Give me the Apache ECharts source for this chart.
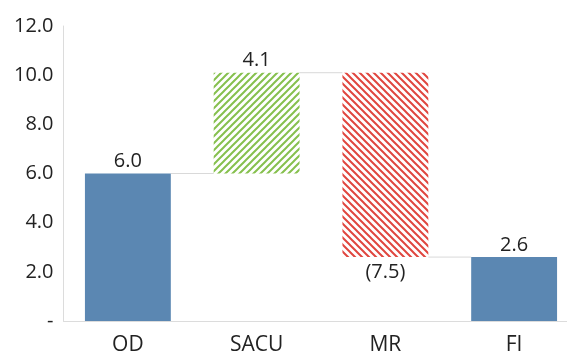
<!DOCTYPE html>
<html>
<head>
<meta charset="utf-8">
<script src="https://cdn.jsdelivr.net/npm/echarts@6/dist/echarts.min.js"></script>
<style>
html,body{margin:0;padding:0;background:#fff;}
#chart{width:567px;height:356px;}
</style>
</head>
<body>
<div id="chart"></div>
<script>
// Waterfall: opening value, changes, final value
const categories = ['OD', 'SACU', 'MR', 'FI'];
const changes = [6.0, 4.1, -7.5, 2.6];
const kinds = ['total', 'delta', 'delta', 'total'];
const yTicks = { min: 0, max: 12, interval: 2 };

function hatch(color, dir) {
  const s = 7;
  const c = document.createElement('canvas');
  c.width = s; c.height = s;
  const g = c.getContext('2d');
  g.strokeStyle = color;
  g.lineWidth = 2;
  g.beginPath();
  if (dir > 0) {
    g.moveTo(0, s); g.lineTo(s, 0);
    g.moveTo(-s, s); g.lineTo(s, -s);
    g.moveTo(0, 2 * s); g.lineTo(2 * s, 0);
  } else {
    g.moveTo(0, 0); g.lineTo(s, s);
    g.moveTo(-s, 0); g.lineTo(s, 2 * s);
    g.moveTo(0, -s); g.lineTo(2 * s, s);
  }
  g.stroke();
  return { image: c, repeat: 'repeat' };
}

const greenHatch = hatch('#86c04e', 1);
const redHatch = hatch('#e0463f', -1);
const blue = '#5b87b2';
const textFont = 'Open Sans';

// base (invisible) and visible parts of each bar
const base = [], visible = [], levels = [];
let running = 0;
changes.forEach((v, i) => {
  if (kinds[i] === 'total') {
    base.push(0);
    visible.push(v);
    running = v;
  } else {
    const start = running;
    const end = running + v;
    base.push(Math.min(start, end));
    visible.push(Math.abs(v));
    running = end;
  }
  levels.push(running);
});

const fmt = v => (v < 0 ? '(' + Math.abs(v).toFixed(1) + ')' : v.toFixed(1));

const visData = visible.map((v, i) => {
  let color = blue;
  if (kinds[i] === 'delta') color = changes[i] >= 0 ? greenHatch : redHatch;
  return {
    value: v,
    itemStyle: { color: color },
    label: {
      position: changes[i] < 0 ? 'bottom' : 'top',
      distance: changes[i] < 0 ? 5 : 2,
      formatter: fmt(changes[i])
    }
  };
});

const chart = echarts.init(document.getElementById('chart'), null, { renderer: 'canvas' });
const barRatio = 0.667;

chart.setOption({
  animation: false,
  grid: { left: 63.5, top: 26, bottom: 35, width: 515, outerBoundsMode: 'none', containLabel: false },
  xAxis: {
    type: 'category',
    data: categories,
    axisLine: { lineStyle: { color: '#dcdcdc', width: 1 } },
    axisTick: { show: false },
    axisLabel: { color: '#222', fontSize: 21, fontFamily: textFont, margin: 14 }
  },
  yAxis: {
    type: 'value',
    min: yTicks.min, max: yTicks.max, interval: yTicks.interval,
    axisLine: { show: true, lineStyle: { color: '#dcdcdc', width: 1 } },
    axisTick: { show: false },
    splitLine: { show: false },
    axisLabel: {
      color: '#222', fontSize: 20, fontFamily: textFont, margin: 10,
      formatter: v => (v === 0 ? '-' : v.toFixed(1))
    }
  },
  series: [
    {
      type: 'bar', stack: 'w', barWidth: (barRatio * 100) + '%',
      itemStyle: { color: 'transparent' },
      emphasis: { disabled: true },
      data: base
    },
    {
      type: 'bar', stack: 'w', barWidth: (barRatio * 100) + '%',
      label: { show: true, color: '#222', fontSize: 20, fontFamily: textFont },
      data: visData
    },
    {
      // connectors between consecutive bars
      type: 'custom',
      silent: true,
      z: 1,
      data: levels.slice(0, -1).map((lv, i) => [i, lv]),
      renderItem: function (params, api) {
        const i = api.value(0);
        const lv = api.value(1);
        const bw = api.size([1, 0])[0] * barRatio;
        const p1 = api.coord([i, lv]);
        const p2 = api.coord([i + 1, lv]);
        return {
          type: 'line',
          shape: { x1: p1[0] + bw / 2, y1: p1[1], x2: p2[0] - bw / 2, y2: p2[1] },
          style: { stroke: '#d9d9d9', lineWidth: 1 }
        };
      }
    }
  ]
});
</script>
</body>
</html>
